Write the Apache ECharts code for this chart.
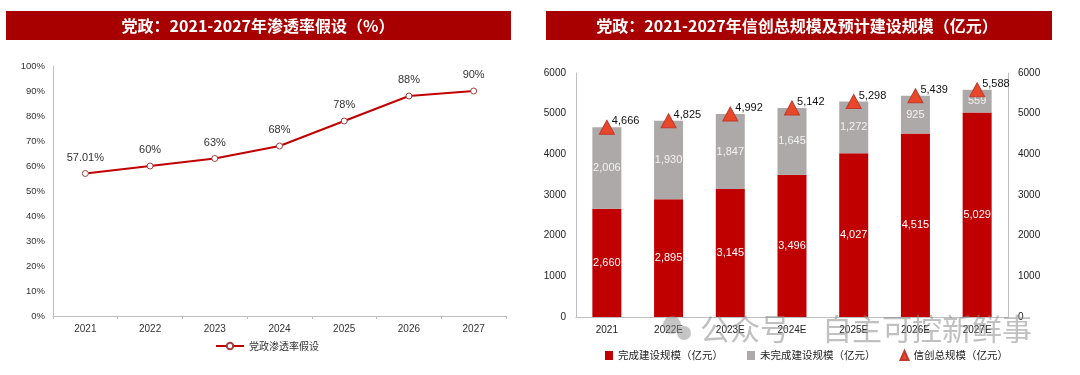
<!DOCTYPE html>
<html>
<head>
<meta charset="utf-8">
<script src="https://cdn.jsdelivr.net/npm/echarts@6/dist/echarts.min.js"></script>
<style>
  html, body { margin: 0; padding: 0; background: #fff; }
  #chart { width: 1080px; height: 375px; }
</style>
</head>
<body>
<div id="chart"></div>
<script>
// left chart: penetration rate
var rateYears = ["2021", "2022", "2023", "2024", "2025", "2026", "2027"];
var rateValues = [57.01, 60, 63, 68, 78, 88, 90];
var rateLabels = ["57.01%", "60%", "63%", "68%", "78%", "88%", "90%"];

// right chart: scale (亿元)
var scaleYears = ["2021", "2022E", "2023E", "2024E", "2025E", "2026E", "2027E"];
var doneValues = [2660, 2895, 3145, 3496, 4027, 4515, 5029];
var todoValues = [2006, 1930, 1847, 1645, 1272, 925, 559];
var totalValues = [4666, 4825, 4992, 5142, 5298, 5439, 5588];

var NARROW = "'Liberation Sans Narrow', 'Arial Narrow', 'Liberation Sans', sans-serif";
var SANS = "'Liberation Sans', Arial, 'Noto Sans CJK SC', sans-serif";
var CJK = "'Noto Sans CJK SC', sans-serif";

var myChart = echarts.init(document.getElementById("chart"), null, { renderer: "canvas" });

function fmt(v) {
  return String(v).replace(/\B(?=(\d{3})+(?!\d))/g, ",");
}

var option = {
  animation: false,
  backgroundColor: "#fff",
  graphic: [
    { type: "rect", shape: { x: 6, y: 11, width: 505, height: 29 }, style: { fill: "#A80000" } },
    {
      type: "text", x: 258, y: 26,
      style: { text: "党政：2021-2027年渗透率假设（%）", fill: "#fff", font: "bold 16px " + CJK, align: "center", verticalAlign: "middle" }
    },
    { type: "rect", shape: { x: 546, y: 11, width: 506, height: 29 }, style: { fill: "#A80000" } },
    {
      type: "text", x: 797, y: 26,
      style: { text: "党政：2021-2027年信创总规模及预计建设规模（亿元）", fill: "#fff", font: "bold 16px " + CJK, align: "center", verticalAlign: "middle" }
    },
    // watermark
    { type: "circle", shape: { cx: 672, cy: 325, r: 9 }, style: { fill: "rgba(140,140,140,0.5)" }, z: 100 },
    { type: "circle", shape: { cx: 684, cy: 333, r: 7 }, style: { fill: "rgba(140,140,140,0.5)" }, z: 100 },
    {
      type: "text", x: 700, y: 329, z: 100,
      style: { text: "公众号", fill: "rgba(140,140,140,0.55)", font: "30px " + CJK, verticalAlign: "middle" }
    },
    {
      type: "text", x: 822, y: 329, z: 100,
      style: { text: "自主可控新鲜事", fill: "rgba(140,140,140,0.55)", font: "30px " + CJK, verticalAlign: "middle" }
    }
  ],
  legend: [
    {
      left: 210, top: 336,
      itemWidth: 28, itemHeight: 8,
      textStyle: { fontSize: 10, color: "#333", fontFamily: CJK },
      data: ["党政渗透率假设"]
    },
    {
      left: 600, top: 345,
      itemGap: 24,
      itemWidth: 8, itemHeight: 9,
      textStyle: { fontSize: 10.5, color: "#222", fontFamily: CJK },
      data: [
        { name: "完成建设规模（亿元）", icon: "rect" },
        { name: "未完成建设规模（亿元）", icon: "rect" },
        { name: "信创总规模（亿元）", icon: "triangle" }
      ]
    }
  ],
  grid: [
    { left: 53, right: 574, top: 66, bottom: 59 },
    { left: 576, right: 72, top: 73, bottom: 58 }
  ],
  xAxis: [
    {
      type: "category", gridIndex: 0, data: rateYears,
      axisLine: { lineStyle: { color: "#BFBFBF" } },
      axisTick: { show: true, length: 3, lineStyle: { color: "#BFBFBF" } },
      axisLabel: { fontSize: 10, color: "#333", fontFamily: NARROW, margin: 8 }
    },
    {
      type: "category", gridIndex: 1, data: scaleYears,
      axisLine: { lineStyle: { color: "#BFBFBF" } },
      axisTick: { show: false },
      axisLabel: { fontSize: 10, color: "#222", fontFamily: SANS, margin: 8 }
    }
  ],
  yAxis: [
    {
      type: "value", gridIndex: 0, min: 0, max: 100, interval: 10,
      axisLine: { show: true, lineStyle: { color: "#BFBFBF" } },
      axisTick: { show: false },
      splitLine: { show: false },
      axisLabel: { fontSize: 9.5, color: "#333", fontFamily: NARROW, formatter: "{value}%", margin: 8 }
    },
    {
      type: "value", gridIndex: 1, min: 0, max: 6000, interval: 1000,
      axisLine: { show: true, lineStyle: { color: "#BFBFBF" } },
      axisTick: { show: false },
      splitLine: { show: false },
      axisLabel: { fontSize: 10, color: "#222", fontFamily: SANS, margin: 10, formatter: function (v) { return String(v); } }
    },
    {
      type: "value", gridIndex: 1, position: "right", min: 0, max: 6000, interval: 1000,
      axisLine: { show: true, lineStyle: { color: "#BFBFBF" } },
      axisTick: { show: false },
      splitLine: { show: false },
      axisLabel: { fontSize: 10, color: "#222", fontFamily: SANS, margin: 10, formatter: function (v) { return String(v); } }
    }
  ],
  series: [
    {
      name: "党政渗透率假设",
      type: "line",
      xAxisIndex: 0, yAxisIndex: 0,
      data: rateValues,
      color: "#C00000",
      lineStyle: { width: 2, color: "#C00000" },
      symbol: "circle", symbolSize: 6,
      itemStyle: { color: "#fff", borderColor: "#A04040", borderWidth: 1 },
      label: {
        show: true, position: "top", distance: 7,
        fontSize: 11, color: "#333", fontFamily: NARROW,
        formatter: function (p) { return rateLabels[p.dataIndex]; }
      }
    },
    {
      name: "完成建设规模（亿元）",
      type: "bar", stack: "scale",
      xAxisIndex: 1, yAxisIndex: 1,
      data: doneValues,
      barWidth: 29,
      color: "#C00000",
      label: {
        show: true, position: "inside",
        fontSize: 11, color: "#fff", fontFamily: NARROW,
        formatter: function (p) { return fmt(p.value); }
      }
    },
    {
      name: "未完成建设规模（亿元）",
      type: "bar", stack: "scale",
      xAxisIndex: 1, yAxisIndex: 1,
      data: todoValues,
      barWidth: 29,
      color: "#ADA9A8",
      label: {
        show: true, position: "inside",
        fontSize: 11, color: "#F2F2F2", fontFamily: NARROW,
        formatter: function (p) { return fmt(p.value); }
      }
    },
    {
      name: "信创总规模（亿元）",
      type: "line",
      xAxisIndex: 1, yAxisIndex: 2,
      data: totalValues,
      color: "#E8472A",
      lineStyle: { width: 0, opacity: 0 },
      symbol: "triangle", symbolSize: [15, 14],
      itemStyle: { color: "#E8472A", borderColor: "#C0392B", borderWidth: 1 },
      z: 5,
      label: {
        show: true, position: "right", distance: -3, offset: [0, -6],
        fontSize: 11, color: "#111", fontFamily: SANS,
        formatter: function (p) { return fmt(p.value); }
      }
    }
  ]
};

myChart.setOption(option);
</script>
</body>
</html>
